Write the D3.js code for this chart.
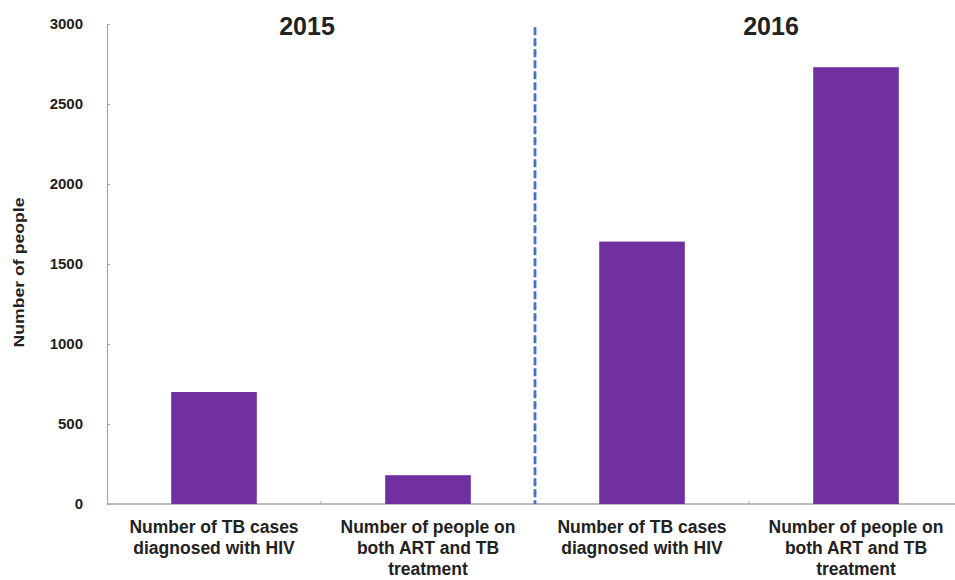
<!DOCTYPE html>
<html>
<head>
<meta charset="utf-8">
<script src="https://cdn.jsdelivr.net/npm/d3@7"></script>
<style>
  html, body { margin: 0; padding: 0; background: #fff; }
  svg { display: block; }
  text { font-family: Arial, "Liberation Sans", sans-serif; font-weight: bold; fill: #222; }
</style>
</head>
<body>
<svg id="chart" width="955" height="580"></svg>
<script>
// TB/HIV indicators by year
const categories = [
  "Number of TB cases diagnosed with HIV|2015",
  "Number of people on both ART and TB treatment|2015",
  "Number of TB cases diagnosed with HIV|2016",
  "Number of people on both ART and TB treatment|2016"
];
const categoryLines = [
  ["Number of TB cases", "diagnosed with HIV"],
  ["Number of people on", "both ART and TB", "treatment"],
  ["Number of TB cases", "diagnosed with HIV"],
  ["Number of people on", "both ART and TB", "treatment"]
];
const values = [700, 180, 1640, 2730];
const years = ["2015", "2016"];
const yTicks = [0, 500, 1000, 1500, 2000, 2500, 3000];

const svg = d3.select("#chart");
const margin = { left: 107, right: -8, top: 24, bottom: 76 };
const W = 955, H = 580;

const x = d3.scaleBand()
  .domain(categories)
  .range([margin.left, W - margin.right])
  .paddingInner(0.6)
  .paddingOuter(0.3);

const y = d3.scaleLinear()
  .domain([0, 3000])
  .range([H - margin.bottom, margin.top]);

// Y axis
const yAxis = svg.append("g")
  .attr("transform", `translate(${margin.left},0)`)
  .call(d3.axisLeft(y).tickValues(yTicks).tickFormat(d3.format("d"))
    .tickSizeInner(-3).tickSizeOuter(0).tickPadding(24));
yAxis.select(".domain").attr("stroke", "#a6a6a6").attr("stroke-width", 1.2);
yAxis.selectAll(".tick line").attr("stroke", "#a6a6a6");
yAxis.selectAll(".tick text")
  .style("font-size", "15px").style("font-family", "Arial, 'Liberation Sans', sans-serif")
  .style("font-weight", "bold").attr("fill", "#222");

// X axis baseline with boundary ticks between categories
const x0 = margin.left, x1 = W - margin.right, yBase = y(0);
svg.append("line")
  .attr("x1", x0).attr("x2", x1).attr("y1", yBase).attr("y2", yBase)
  .attr("stroke", "#a6a6a6").attr("stroke-width", 1.5);
const step = x.step();
categories.slice(1).forEach((c, i) => {
  const bx = x(c) - x.paddingInner() * step / 2;
  svg.append("line")
    .attr("x1", bx).attr("x2", bx).attr("y1", yBase).attr("y2", yBase - 3)
    .attr("stroke", "#a6a6a6");
});

// Bars
svg.append("g").selectAll("rect")
  .data(values)
  .join("rect")
  .attr("x", (d, i) => x(categories[i]))
  .attr("width", x.bandwidth())
  .attr("y", d => y(d))
  .attr("height", d => y(0) - y(d))
  .attr("fill", "#7030a0");

// Year divider
const divX = x(categories[2]) - x.paddingInner() * step / 2;
svg.append("line")
  .attr("x1", divX).attr("x2", divX)
  .attr("y1", y(2980)).attr("y2", yBase)
  .attr("stroke", "#4472c4")
  .attr("stroke-width", 2.8)
  .attr("stroke-dasharray", "8,3");

// Year headings
const yearX = [
  (x(categories[0]) + x(categories[1]) + x.bandwidth()) / 2 - 14,
  (x(categories[2]) + x(categories[3]) + x.bandwidth()) / 2 + 22
];
svg.selectAll(".year")
  .data(years)
  .join("text")
  .attr("class", "year")
  .attr("x", (d, i) => yearX[i])
  .attr("y", 35)
  .attr("text-anchor", "middle")
  .style("font-size", "25px")
  .text(d => d);

// Category labels
categories.forEach((c, i) => {
  const cx = x(c) + x.bandwidth() / 2;
  const t = svg.append("text")
    .attr("text-anchor", "middle")
    .style("font-size", "17.5px");
  categoryLines[i].forEach((line, j) => {
    t.append("tspan")
      .attr("x", cx)
      .attr("y", yBase + 29 + j * 21)
      .text(line);
  });
});

// Y axis title
svg.append("text")
  .attr("transform", `translate(24,${(197 + 348) / 2}) rotate(-90)`)
  .attr("text-anchor", "middle")
  .attr("textLength", 150)
  .attr("lengthAdjust", "spacingAndGlyphs")
  .style("font-size", "14px")
  .text("Number of people");
</script>
</body>
</html>
